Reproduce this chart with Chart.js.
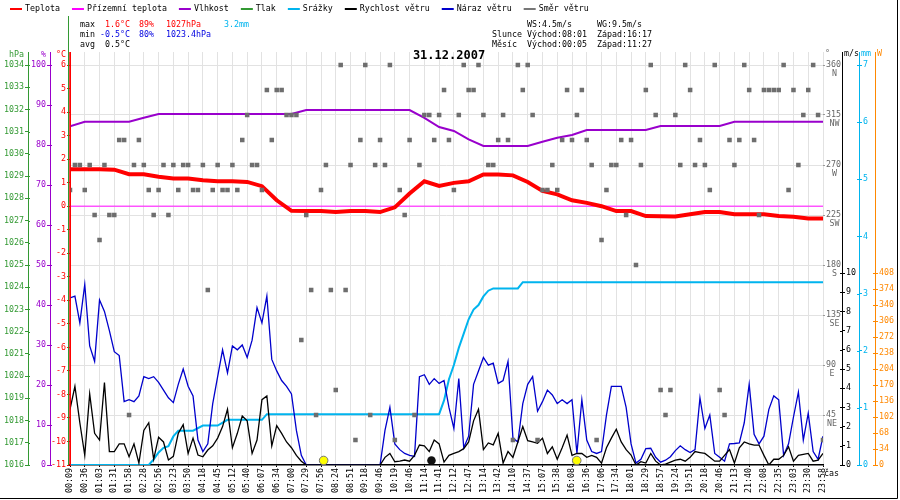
<!DOCTYPE html>
<html>
<head>
<meta charset="utf-8">
<script src="https://cdn.jsdelivr.net/npm/chart.js@4.4.1/dist/chart.umd.min.js"></script>
<style>
  html, body { margin: 0; padding: 0; background: #fff; }
  #wrap { width: 900px; height: 500px; }
</style>
</head>
<body>
<div id="wrap"><canvas id="meteo" width="900" height="500"></canvas></div>
<script>
// popisky casove osy (kazdy 3. zaznam)
const timeLabels = ['00:09','00:36','01:03','01:31','01:58','02:28','02:56','03:23','03:50','04:18',
  '04:45','05:12','05:40','06:07','06:34','07:00','07:29','07:56','08:24','08:51',
  '09:18','09:46','10:19','10:46','11:14','11:41','12:12','12:47','13:14','13:42',
  '14:10','14:37','15:07','15:38','16:08','16:36','17:06','17:34','18:01','18:29',
  '18:57','19:24','19:51','20:18','20:46','21:13','21:40','22:08','22:35','23:03',
  '23:30','23:58'];

// hodnoty u kazdeho popisku casu
const tempC = [1.57, 1.57, 1.57, 1.55, 1.36, 1.36, 1.25, 1.18, 1.18, 1.1,
  1.06, 1.06, 1.03, 0.85, 0.25, -0.2, -0.21, -0.21, -0.25, -0.21,
  -0.21, -0.25, -0.05, 0.54, 1.06, 0.86, 0.99, 1.06, 1.35, 1.35,
  1.31, 1.03, 0.65, 0.5, 0.25, 0.14, 0.0, -0.21, -0.21, -0.42,
  -0.43, -0.44, -0.34, -0.25, -0.25, -0.34, -0.34, -0.34, -0.42, -0.45,
  -0.52, -0.52];
const groundTemp = [0, 0, 0, 0, 0, 0, 0, 0, 0, 0, 0, 0, 0, 0, 0, 0, 0, 0, 0, 0, 0, 0, 0, 0, 0, 0,
  0, 0, 0, 0, 0, 0, 0, 0, 0, 0, 0, 0, 0, 0, 0, 0, 0, 0, 0, 0, 0, 0, 0, 0, 0, 0];
const humidity = [84.7, 85.8, 85.8, 85.8, 85.8, 86.8, 87.75, 87.75, 87.75, 87.75,
  87.75, 87.75, 87.75, 87.75, 87.75, 87.75, 88.75, 88.75, 88.75, 88.75,
  88.75, 88.75, 88.75, 88.75, 86.8, 84.5, 83.5, 81.4, 79.75, 79.75,
  79.75, 79.75, 80.8, 81.8, 82.5, 83.75, 83.75, 83.75, 83.75, 83.75,
  84.75, 84.75, 84.75, 84.75, 84.75, 85.8, 85.8, 85.8, 85.8, 85.8,
  85.8, 85.8];
const pressure = [];

// srazky (kumulativne) - zlomove body: index zaznamu a mm
const rainIdx = [0, 16, 17, 18, 19, 20, 21, 22, 25, 27, 30, 32, 39, 40, 75, 76, 77, 78, 79, 80,
  81, 82, 83, 84, 85, 86, 91, 92, 153];
const rainMm = [0, 0, 0.1, 0.22, 0.3, 0.33, 0.5, 0.6, 0.6, 0.69, 0.69, 0.79, 0.79, 0.89, 0.89, 1.13, 1.5, 1.75, 2.05, 2.3,
  2.55, 2.72, 2.8, 2.95, 3.05, 3.09, 3.09, 3.2, 3.2];

// vitr - kazdy zaznam (154)
const windSpeed = [2.9, 4.1, 2.2, 0.5, 3.7, 1.65, 1.3, 4.3, 0.7, 0.7,
  1.1, 1.1, 0.43, 1.1, 0.1, 1.8, 2.2, 0.3, 1.45, 1.2,
  0.26, 0.45, 1.65, 2.1, 0.6, 1.4, 0.52, 0.43, 0.78, 1.0,
  1.4, 2.0, 2.9, 0.9, 1.65, 2.55, 2.3, 0.6, 1.3, 3.4,
  3.6, 1.0, 2.05, 1.65, 1.2, 0.9, 0.5, 0.2, 0, 0,
  0, 0, 0, 0, 0, 0, 0, 0, 0, 0,
  0, 0, 0, 0, 0.4, 0.6, 0.17, 0.2, 0.26, 0.2,
  0.5, 1.04, 1.0, 0.7, 1.3, 1.1, 0.15, 0.5, 0.6, 0.7,
  0.85, 1.2, 2.3, 2.9, 0.8, 1.15, 1.05, 1.65, 0.1, 0.7,
  0.4, 1.2, 2.0, 1.27, 1.2, 1.13, 1.4, 0.6, 0.95, 0.3,
  0.9, 1.56, 0.5, 0.6, 0.6, 0.4, 0.5, 0.4, 0.1, 0.9,
  1.4, 1.86, 1.2, 0.8, 0.52, 0, 0.17, 0.1, 0.6, 0.2,
  0, 0.05, 0.15, 0.25, 0.3, 0.2, 0.4, 0.7, 0.65, 0.6,
  0.4, 0.2, 0.2, 0.5, 0.8, 0.1, 0.9, 1.2, 1.1, 1.04,
  1.04, 0.5, 0, 0.3, 0.3, 0.5, 0.95, 0.2, 0.5, 0.55,
  0.6, 0.2, 0.25, 0.6];
const windGust = [8.7, 8.8, 7.4, 9.4, 6.2, 5.4, 8.6, 8.0, 7.0, 5.9,
  5.7, 3.3, 3.4, 3.3, 3.6, 4.6, 4.5, 4.6, 4.3, 3.9,
  3.5, 3.25, 4.2, 5.0, 4.1, 3.6, 1.3, 0.7, 1.1, 3.2,
  4.6, 6.0, 4.8, 6.2, 6.0, 6.25, 5.6, 6.5, 8.2, 7.4,
  8.8, 5.5, 4.9, 4.4, 4.1, 3.7, 1.8, 0.5, 0, 0,
  0, 0, 0, 0, 0, 0, 0, 0, 0, 0,
  0, 0, 0, 0, 1.8, 3.0, 1.1, 0.8, 0.6, 0.5,
  0.45, 4.6, 4.7, 4.2, 4.5, 4.25, 4.4, 3.0, 1.9, 4.5,
  0.9, 1.5, 4.2, 4.9, 5.6, 5.2, 5.3, 4.25, 4.4, 5.4,
  1.4, 1.2, 3.2, 4.2, 4.6, 2.8, 3.3, 3.9, 3.65, 3.2,
  3.4, 3.2, 3.4, 0.6, 3.4, 1.3, 0.7, 0.6, 0.7, 2.6,
  4.1, 4.1, 4.1, 3.0, 1.1, 0.1, 0.3, 0.85, 0.87, 0.4,
  0.15, 0.25, 0.43, 0.75, 1.0, 0.8, 0.65, 0.8, 3.5, 1.9,
  2.6, 0.6, 0.4, 0.2, 1.1, 1.12, 1.15, 2.2, 4.2, 1.6,
  1.1, 1.5, 2.9, 3.6, 3.4, 0.5, 1.1, 2.5, 3.8, 1.3,
  2.7, 0.7, 0.3, 1.5];
const windDir = [247.5, 270, 270, 247.5, 270, 225, 202.5, 270, 225, 225,
  292.5, 292.5, 45, 270, 292.5, 270, 247.5, 225, 247.5, 270,
  225, 270, 247.5, 270, 270, 247.5, 247.5, 270, 157.5, 247.5,
  270, 247.5, 247.5, 270, 247.5, 292.5, 315, 270, 270, 247.5,
  337.5, 292.5, 337.5, 337.5, 315, 315, 315, 112.5, 225, 157.5,
  45, 247.5, 270, 157.5, 67.5, 360, 157.5, 270, 22.5, 292.5,
  360, 45, 270, 292.5, 270, 360, 22.5, 247.5, 225, 292.5,
  45, 270, 315, 315, 292.5, 315, 337.5, 292.5, 247.5, 315,
  360, 337.5, 337.5, 360, 315, 270, 270, 292.5, 315, 292.5,
  22.5, 360, 337.5, 360, 315, 22.5, 247.5, 247.5, 270, 247.5,
  292.5, 337.5, 292.5, 315, 337.5, 292.5, 270, 22.5, 202.5, 247.5,
  270, 270, 292.5, 225, 292.5, 180, 270, 337.5, 360, 315,
  67.5, 45, 67.5, 315, 270, 360, 337.5, 270, 292.5, 270,
  247.5, 360, 67.5, 45, 292.5, 270, 292.5, 360, 337.5, 292.5,
  225, 337.5, 337.5, 337.5, 337.5, 360, 247.5, 337.5, 270, 315,
  337.5, 360, 315, 22.5];

// popisky os
const tempTicks = [-11, -10, -9, -8, -7, -6, -5, -4, -3, -2, -1, 0, 1, 2, 3, 4, 5, 6];
const humTicks = [0, 10, 20, 30, 40, 50, 60, 70, 80, 90, 100];
const pressTicks = [1016, 1017, 1018, 1019, 1020, 1021, 1022, 1023, 1024, 1025, 1026, 1027, 1028, 1029, 1030, 1031, 1032, 1033, 1034];
const dirTicks = [45, 90, 135, 180, 225, 270, 315, 360];
const dirNames = ['NE', 'E', 'SE', 'S', 'SW', 'W', 'NW', 'N'];
const windTicks = [0, 1, 2, 3, 4, 5, 6, 7, 8, 9, 10];
const rainTicks = [0, 1, 2, 3, 4, 5, 6, 7];
const solarTicks = [0, 34, 68, 102, 136, 170, 204, 238, 272, 306, 340, 374, 408];

// souhrn
const statMax = ['1.6°C', '89%', '1027hPa', '3.2mm'];
const statMin = ['-0.5°C', '80%', '1023.4hPa'];
const statAvg = ['0.5°C'];
const windInfo = ['WS:4.5m/s', 'WG:9.5m/s'];
const sunInfo = ['Slunce', 'Východ:08:01', 'Západ:16:17'];
const moonInfo = ['Měsíc', 'Východ:00:05', 'Západ:11:27'];
const sunEvents = ['08:01', '16:17'];
const moonEvents = ['11:27'];
const dateTitle = '31.12.2007';

const FONT = '"DejaVu Sans Mono", monospace';
const TOP_EXT = 13 / 400;   // osy presahuji nad horni popisek
const RED = '#ff0000', MAG = '#ff00ff', PUR = '#9900cc', GRN = '#339933',
      CYA = '#00b4ee', BLU = '#0000cc', ORA = '#ff8800', GRAY = '#6e6e6e';

const perLabel = arr => arr.map((v, k) => ({ x: k * 3, y: v }));
const perRecord = arr => arr.map((v, i) => ({ x: i, y: v }));
const toMin = t => { const p = t.split(':').map(Number); return p[0] * 60 + p[1]; };
function timeToIdx(t) {
  const m = toMin(t);
  for (let k = 0; k < timeLabels.length - 1; k++) {
    const a = toMin(timeLabels[k]), b = toMin(timeLabels[k + 1]);
    if (m >= a && m <= b) return 3 * (k + (m - a) / (b - a));
  }
  return null;
}

function sideAxis(pos, weight, min, max, ticks, width, color, cb) {
  return {
    type: 'linear', position: pos, weight: weight, min: min, max: max,
    afterBuildTicks: s => { s.ticks = ticks.map(v => ({ value: v })); },
    afterFit: s => { s.width = width; },
    ticks: { color: color, padding: 1, font: { size: 8.3 }, callback: cb || (v => String(v)) },
    grid: { drawOnChartArea: false, tickLength: 3, tickColor: color },
    border: { color: color, width: 1 }
  };
}

const decor = {
  id: 'decor',
  beforeDraw(c) {
    const ctx = c.ctx;
    ctx.save();
    ctx.fillStyle = '#fff';
    ctx.fillRect(0, 0, c.width, c.height);
    ctx.restore();
  },
  afterDatasetsDraw(c) {
    const ctx = c.ctx, a = c.chartArea, xs = c.scales.x;
    ctx.save();
    sunEvents.forEach(t => {
      const i = timeToIdx(t);
      if (i === null) return;
      ctx.beginPath();
      ctx.arc(xs.getPixelForValue(i), a.bottom - 4.5, 4.3, 0, Math.PI * 2);
      ctx.fillStyle = '#ffff00'; ctx.fill();
      ctx.strokeStyle = '#777'; ctx.lineWidth = 1; ctx.stroke();
    });
    moonEvents.forEach(t => {
      const i = timeToIdx(t);
      if (i === null) return;
      ctx.beginPath();
      ctx.arc(xs.getPixelForValue(i), a.bottom - 4.5, 4.3, 0, Math.PI * 2);
      ctx.fillStyle = '#111'; ctx.fill();
    });
    ctx.restore();
  },
  afterDraw(c) {
    const ctx = c.ctx, a = c.chartArea, s = c.scales;
    ctx.save();

    // zelena svisla cara u leve osy
    ctx.strokeStyle = GRN; ctx.lineWidth = 1;
    ctx.beginPath(); ctx.moveTo(a.left - 1.5, 16); ctx.lineTo(a.left - 1.5, a.bottom); ctx.stroke();
    ctx.strokeStyle = RED; ctx.lineWidth = 1.5;
    ctx.beginPath(); ctx.moveTo(a.left, a.top); ctx.lineTo(a.left, a.bottom); ctx.stroke();

    // kratke carky na vnitrni strane os (tvar "+")
    ctx.lineWidth = 1;
    [['yP', GRN, 1], ['yH', PUR, 1], ['yW', '#000', -1], ['yR', CYA, -1], ['yS', ORA, -1]].forEach(d => {
      const sc = s[d[0]], edge = d[2] > 0 ? sc.right : sc.left;
      ctx.strokeStyle = d[1];
      sc.ticks.forEach(t => {
        const y = Math.round(sc.getPixelForValue(t.value)) + 0.5;
        ctx.beginPath(); ctx.moveTo(edge, y); ctx.lineTo(edge + 2 * d[2], y); ctx.stroke();
      });
    });

    // legenda
    ctx.font = '8.3px ' + FONT;
    ctx.textBaseline = 'middle'; ctx.textAlign = 'left';
    let x = 10;
    c.data.datasets.forEach(ds => {
      ctx.strokeStyle = ds.legendColor || ds.borderColor; ctx.lineWidth = 2;
      ctx.beginPath(); ctx.moveTo(x, 9); ctx.lineTo(x + 12, 9); ctx.stroke();
      ctx.fillStyle = '#000';
      ctx.fillText(ds.label, x + 15, 9);
      x += 15 + ctx.measureText(ds.label).width + 12;
    });

    // souhrnne hodnoty
    const rows = [24.5, 34.5, 44.5];
    ctx.fillStyle = '#000';
    ctx.fillText('max', 80, rows[0]);
    ctx.fillText('min', 80, rows[1]);
    ctx.fillText('avg', 80, rows[2]);
    ctx.textAlign = 'right';
    ctx.fillStyle = RED; ctx.fillText(statMax[0], 130, rows[0]);
    ctx.fillStyle = '#0000e0'; ctx.fillText(statMin[0], 130, rows[1]);
    ctx.fillStyle = '#000'; ctx.fillText(statAvg[0], 130, rows[2]);
    ctx.textAlign = 'left';
    ctx.fillStyle = RED;
    ctx.fillText(statMax[1], 139, rows[0]);
    ctx.fillText(statMax[2], 166, rows[0]);
    ctx.fillStyle = CYA; ctx.fillText(statMax[3], 224, rows[0]);
    ctx.fillStyle = '#0000e0';
    ctx.fillText(statMin[1], 139, rows[1]);
    ctx.fillText(statMin[2], 166, rows[1]);

    ctx.fillStyle = '#000';
    ctx.fillText(windInfo[0], 527, rows[0]);
    ctx.fillText(windInfo[1], 597, rows[0]);
    [sunInfo, moonInfo].forEach((r, j) => {
      ctx.fillText(r[0], 492, rows[j + 1]);
      ctx.fillText(r[1], 527, rows[j + 1]);
      ctx.fillText(r[2], 597, rows[j + 1]);
    });

    // datum
    ctx.font = 'bold 12px ' + FONT;
    ctx.textAlign = 'center';
    ctx.fillText(dateTitle, 449, 56);

    // nazvy os
    ctx.font = '8.3px ' + FONT;
    ctx.textAlign = 'right';
    [['yP', 'hPa', GRN], ['yH', '%', PUR], ['yT', '°C', RED]].forEach(d => {
      ctx.fillStyle = d[2]; ctx.fillText(d[1], s[d[0]].right - 4, 55);
    });
    ctx.textAlign = 'left';
    [['yD', '°', '#666'], ['yW', 'm/s', '#000'], ['yR', 'mm', CYA], ['yS', 'W', ORA]].forEach(d => {
      ctx.fillStyle = d[2]; ctx.fillText(d[1], s[d[0]].left + 2, 54);
    });

    // svetove strany pod ciselnymi popisky
    ctx.fillStyle = '#666'; ctx.textAlign = 'center';
    dirTicks.forEach((v, i) => {
      const w = ctx.measureText(String(v)).width;
      ctx.fillText(dirNames[i], s.yD.left + 4 + w / 2, s.yD.getPixelForValue(v) + 8.5);
    });

    // popisek casove osy
    ctx.fillStyle = '#000'; ctx.textAlign = 'left';
    ctx.fillText('čas', a.right + 1, a.bottom + 9);

    // ramecek
    ctx.strokeStyle = '#000'; ctx.lineWidth = 1;
    ctx.beginPath();
    ctx.moveTo(897.5, 0); ctx.lineTo(897.5, 498.5); ctx.lineTo(0, 498.5);
    ctx.stroke();
    ctx.restore();
  }
};

Chart.defaults.font.family = FONT;
Chart.defaults.font.size = 8.3;

new Chart(document.getElementById('meteo'), {
  type: 'line',
  data: {
    datasets: [
      { label: 'Teplota', data: perLabel(tempC), yAxisID: 'yT', borderColor: RED, borderWidth: 4, order: 1 },
      { label: 'Přízemní teplota', data: perLabel(groundTemp), yAxisID: 'yT', borderColor: MAG, borderWidth: 1, order: 2 },
      { label: 'Vlhkost', data: perLabel(humidity), yAxisID: 'yH', borderColor: PUR, borderWidth: 2, order: 3 },
      { label: 'Tlak', data: pressure, yAxisID: 'yP', borderColor: GRN, borderWidth: 2, order: 8 },
      { label: 'Srážky', data: rainIdx.map((v, i) => ({ x: v, y: rainMm[i] })), yAxisID: 'yR', borderColor: CYA, borderWidth: 2, order: 7 },
      { label: 'Rychlost větru', data: perRecord(windSpeed), yAxisID: 'yW', borderColor: '#000', borderWidth: 1.3, order: 4 },
      { label: 'Náraz větru', data: perRecord(windGust), yAxisID: 'yW', borderColor: BLU, borderWidth: 1.3, order: 5 },
      { label: 'Směr větru', data: perRecord(windDir), yAxisID: 'yD', showLine: false, legendColor: '#777',
        pointRadius: 3.2, pointStyle: 'rect', pointBackgroundColor: GRAY, pointBorderWidth: 0, order: 0 }
    ]
  },
  options: {
    responsive: false,
    animation: false,
    devicePixelRatio: 1,
    events: [],
    layout: { padding: { top: 52, left: 0, right: 3, bottom: 2 } },
    elements: {
      point: { radius: 0 },
      line: { tension: 0, fill: false, borderCapStyle: 'butt' }
    },
    plugins: { legend: { display: false }, tooltip: { enabled: false } },
    scales: {
      x: {
        type: 'linear', min: 0, max: 153,
        afterBuildTicks: s => { s.ticks = timeLabels.map((t, k) => ({ value: k * 3 })); },
        afterFit: s => { s.height = 33; },
        ticks: { autoSkip: false, minRotation: 90, maxRotation: 90, padding: 1, color: '#000',
                 font: { size: 8.3 }, callback: v => timeLabels[Math.round(v / 3)] },
        grid: { color: c => c.index === 0 ? 'rgba(0,0,0,0)' : '#e2e2e2', tickColor: '#000', tickLength: 2 },
        border: { color: '#000', width: 1.5 }
      },
      yT: sideAxis('left', 0, -11, 6 + 17 * TOP_EXT, tempTicks, 20, RED),
      yH: sideAxis('left', 1, 0, 100 + 100 * TOP_EXT, humTicks, 22, PUR),
      yP: sideAxis('left', 2, 1016, 1034 + 18 * TOP_EXT, pressTicks, 28, GRN),
      yD: {
        type: 'linear', position: 'right', weight: 0, min: 0, max: 360 * (1 + TOP_EXT),
        afterBuildTicks: s => { s.ticks = dirTicks.map(v => ({ value: v })); },
        afterFit: s => { s.width = 19; },
        ticks: { color: '#666', padding: 1, font: { size: 8.3 }, callback: v => String(v) },
        grid: { color: '#e2e2e2', tickLength: 2, tickColor: '#999' },
        border: { display: false }
      },
      yW: sideAxis('right', 1, 0, 10 / 0.48 * (1 + TOP_EXT), windTicks, 17, '#000'),
      yR: sideAxis('right', 2, 0, 7 * (1 + TOP_EXT), rainTicks, 16, CYA),
      yS: sideAxis('right', 3, 0, 408 / 0.48 * (1 + TOP_EXT), solarTicks, 22, ORA)
    }
  },
  plugins: [decor]
});
</script>
</body>
</html>
